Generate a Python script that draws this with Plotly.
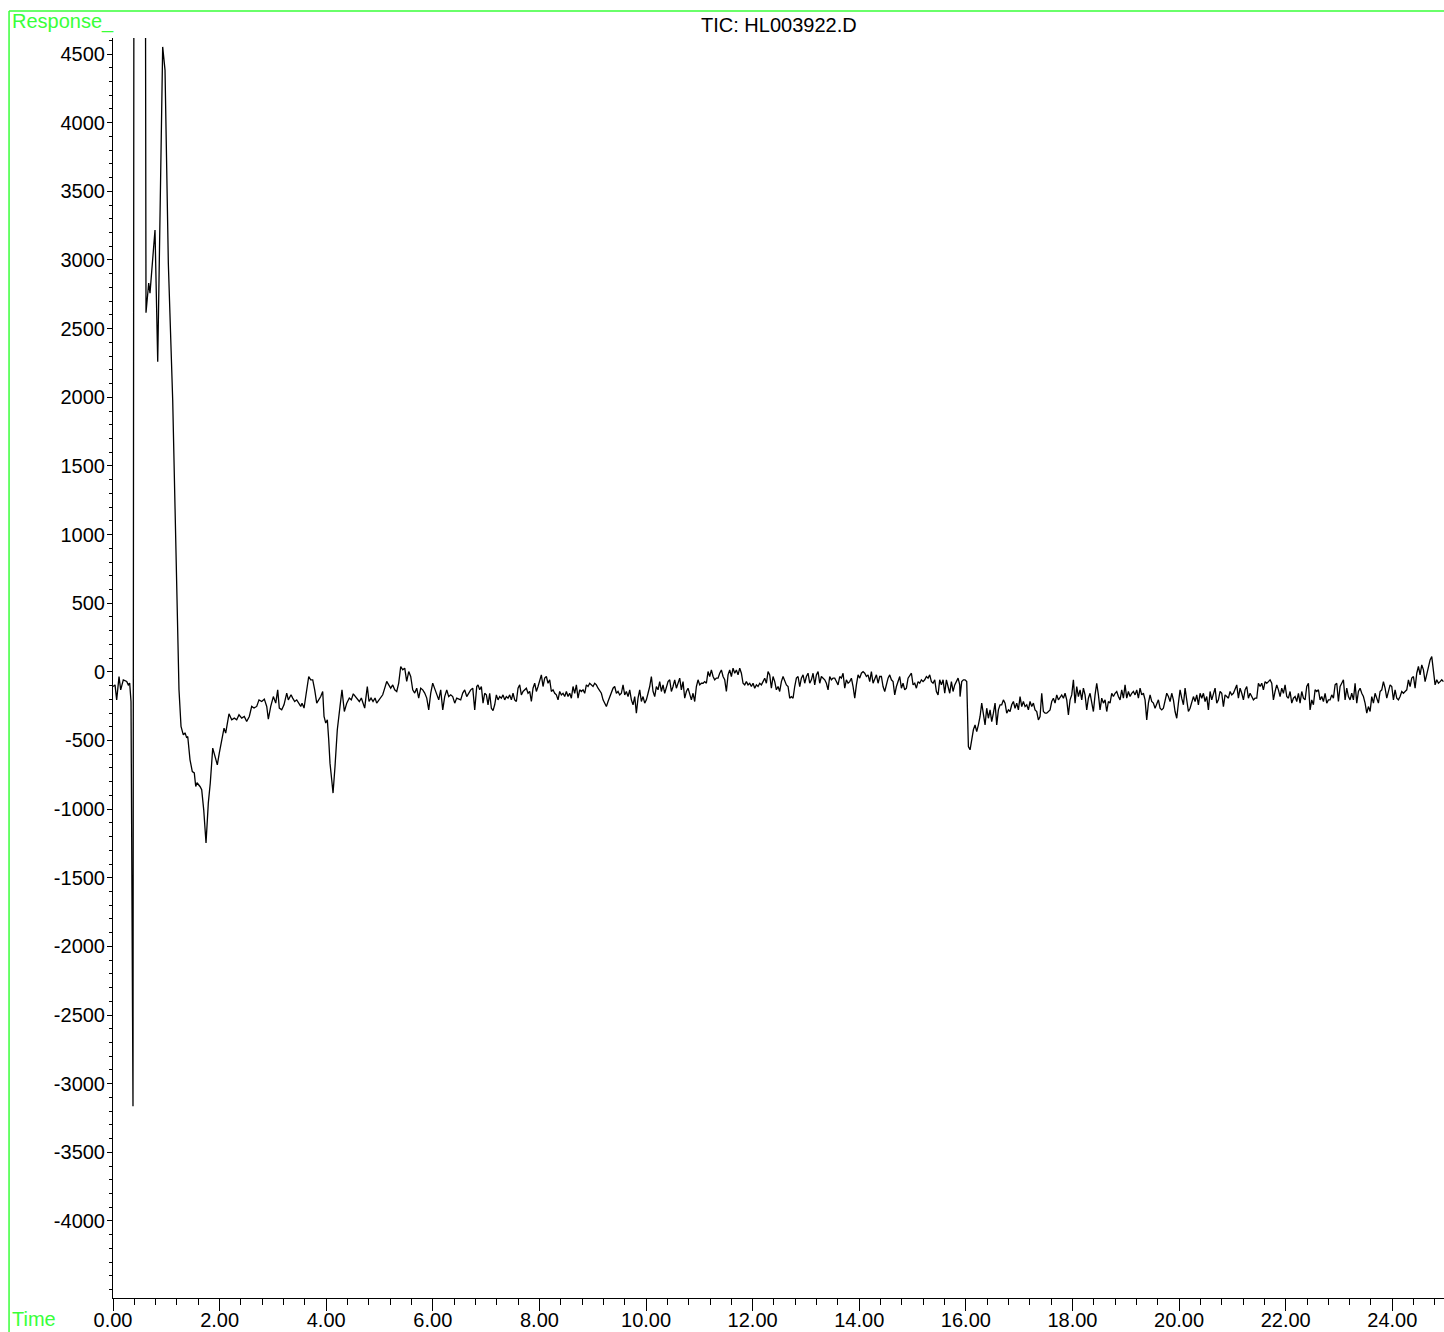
import numpy as np
import plotly.graph_objects as go

# ---- data (time in minutes, response in counts) ----
early_time = [
    0.000, 0.038, 0.069, 0.113, 0.144, 0.193, 0.257, 0.287, 0.313, 0.338,
    0.375, 0.400, 0.480, 0.580, 0.619, 0.670, 0.694, 0.788, 0.839, 0.932,
    0.976, 1.038, 1.120, 1.173, 1.225, 1.238, 1.276, 1.319, 1.351, 1.383,
    1.402, 1.445, 1.488, 1.525, 1.552, 1.576, 1.632, 1.664, 1.702, 1.745,
    1.788, 1.825, 1.871, 1.914, 1.957, 1.994, 2.039, 2.083, 2.114, 2.176,
    2.227, 2.276, 2.321, 2.364, 2.415, 2.463, 2.508, 2.557, 2.602, 2.645,
    2.696, 2.739, 2.790, 2.839, 2.884, 2.914, 2.959, 3.008, 3.053, 3.090,
    3.120, 3.165, 3.208, 3.259, 3.289, 3.340, 3.371, 3.409, 3.447, 3.484,
    3.522, 3.546, 3.584, 3.621, 3.672, 3.709, 3.747, 3.784, 3.822, 3.859,
    3.897, 3.934, 3.959, 3.991, 4.021, 4.047, 4.071, 4.103, 4.128, 4.165,
    4.208, 4.259, 4.296, 4.340, 4.385, 4.433, 4.471, 4.508, 4.546, 4.583,
    4.621, 4.659, 4.696, 4.722, 4.747, 4.771, 4.803, 4.841, 4.878, 4.916,
    4.947, 4.985, 5.023, 5.060, 5.098, 5.135, 5.173, 5.210, 5.248, 5.285,
    5.323, 5.360, 5.398, 5.435, 5.473, 5.510, 5.548, 5.585, 5.623, 5.660,
    5.698, 5.735, 5.773, 5.811, 5.848, 5.886, 5.923, 5.961, 5.998, 6.036,
    6.073, 6.111, 6.148, 6.186, 6.223, 6.261, 6.298, 6.336, 6.373, 6.411,
    6.448, 6.486, 6.523, 6.561, 6.598, 6.636, 6.674, 6.711, 6.749, 6.786,
    6.824,
]
early_resp = [
    -107, -95, -204, -34, -131, -58, -70, -95, -82, -216,
    -3164, 9000, 14000, 12000, 2616, 2832, 2759, 3218, 2259, 4552,
    4383, 2977, 1980, 1100, 233, -131, -398, -459, -444, -481,
    -471, -641, -726, -736, -835, -808, -835, -859, -1005, -1247,
    -956, -810, -556, -616, -677, -592, -495, -410, -446, -306,
    -349, -337, -349, -313, -337, -325, -362, -325, -252, -264,
    -252, -204, -216, -199, -252, -344, -252, -180, -228, -131,
    -264, -277, -240, -155, -204, -167, -191, -216, -204, -228,
    -252, -228, -264, -167, -34, -58, -58, -131, -228, -204,
    -180, -143, -325, -373, -349, -495, -665, -786, -883, -689,
    -422, -252, -131, -289, -228, -191, -204, -160, -180, -191,
    -216, -191, -240, -264, -180, -107, -216, -191, -216, -191,
    -228, -204, -180, -167, -119, -70, -95, -119, -95, -131,
    -143, -82, 39, 15, 27, -70, 2, -34, -131, -155,
    -119, -191, -119, -131, -155, -191, -277, -155, -82, -119,
    -155, -204, -131, -277, -180, -131, -180, -167, -180, -228,
    -191, -199, -204, -155, -131, -180, -155, -131, -119, -277,
    -107,
]

# uniformly sampled segments (start time, scan interval)
SCAN_INTERVAL = 0.03127
mid_start = 6.848
mid_resp = [
    -95, -131, -107, -228, -156, -168, -240, -156, -265, -282,
    -240, -168, -204, -180, -192, -168, -204, -180, -192, -168,
    -204, -156, -204, -216, -119, -95, -168, -143, -131, -119,
    -156, -143, -216, -119, -83, -143, -107, -58, -22, -107,
    -46, -34, -83, -58, -143, -131, -156, -168, -204, -143,
    -168, -156, -180, -143, -180, -156, -192, -107, -156, -95,
    -192, -131, -143, -131, -156, -95, -107, -83, -95, -107,
    -83, -95, -119, -143, -156, -204, -228, -253, -216, -180,
    -156, -119, -107, -156, -143, -168, -156, -95, -168, -143,
    -180, -131, -204, -240, -180, -301, -192, -131, -216, -180,
    -228, -204, -156, -107, -34, -143, -180, -107, -131, -71,
    -143, -95, -156, -119, -71, -58, -143, -107, -58, -119,
    -83, -46, -131, -71, -192, -143, -119, -156, -204, -156,
    -216, -107, -58, -95, -83, -83, -71, -83, 2, -34,
    14, -34, -58, -46, -46, -10, 14, -34, -58, -143,
    -22, 14, -34, 27, -10, 14, -22, 27, -10, -83,
    -95, -71, -95, -83, -107, -83, -119, -95, -107, -83,
    -95, -71, -46, -83, 2, -22, -119, -34, -71, -131,
    -107, -143, -71, -34, -71, -95, -107, -192, -180, -192,
    -107, -46, -34, -107, -46, -22, -83, -34, -10, -83,
    -58, -10, -95, -22, 2, -83, -34, -46, -58, -83,
    -131, -34, -58, -46, -46, -71, -95, -34, -46, -10,
    -119, -58, -83, -71, -46, -107, -192, -95, -22, -46,
    -10, 2, -10, -34, -22, -71, 2, -83, -46, -22,
    -83, -34, -34, -107, -143, -95, -46, -22, -58, -71,
    -168, -107, -71, -34, -119, -83, -131, -119, -46, -22,
    -10, -95, -83, -119, -71, -83, -58, -71, -58, -34,
    -46, -22, -71, -83, -58, -143, -168, -58, -95, -58,
    -156, -58, -119, -156, -71, -143, -95, -71, -46, -95,
]
end_start = 15.891
end_resp = [
    -180, -71, -58, -58, -71, -544, -568, -495, -422, -386,
    -435, -386, -325, -228, -325, -386, -265, -338, -277, -362,
    -301, -228, -386, -277, -240, -240, -204, -228, -301, -277,
    -289, -240, -216, -265, -228, -277, -180, -253, -216, -253,
    -240, -277, -216, -253, -228, -277, -289, -350, -325, -156,
    -289, -301, -301, -289, -277, -216, -192, -228, -168, -204,
    -180, -168, -192, -156, -204, -313, -204, -168, -58, -228,
    -107, -180, -131, -204, -119, -168, -277, -192, -156, -240,
    -289, -168, -83, -168, -277, -192, -228, -204, -289, -216,
    -228, -156, -180, -156, -143, -180, -204, -131, -192, -95,
    -192, -143, -180, -156, -143, -168, -131, -192, -119, -168,
    -156, -204, -350, -228, -168, -216, -228, -265, -240, -204,
    -265, -277, -265, -204, -156, -180, -216, -156, -204, -289,
    -338, -228, -131, -192, -240, -119, -192, -289, -265, -228,
    -180, -216, -168, -240, -156, -192, -156, -216, -180, -277,
    -143, -204, -168, -119, -228, -204, -143, -156, -253, -168,
    -180, -192, -143, -168, -156, -131, -95, -192, -119, -156,
    -204, -131, -107, -192, -156, -180, -204, -192, -192, -83,
    -107, -83, -131, -71, -83, -71, -58, -83, -204, -143,
    -95, -131, -180, -119, -156, -95, -180, -192, -143, -228,
    -192, -180, -216, -156, -228, -143, -192, -204, -107, -83,
    -277, -204, -240, -131, -143, -131, -204, -180, -216, -156,
    -228, -204, -204, -168, -192, -95, -83, -216, -107, -83,
    -58, -204, -119, -180, -204, -156, -204, -83, -228, -143,
    -119, -156, -180, -228, -301, -253, -289, -180, -228, -156,
    -192, -228, -143, -131, -71, -119, -192, -131, -95, -107,
    -204, -131, -192, -204, -180, -143, -156, -143, -131, -58,
    -107, -46, -34, -119, -10, 39, -22, 51, 14, -71,
    -22, 27, 87, 111, 27, -95, -58, -83, -71, -58,
    -71,
]

x_tick_vals = [0, 2, 4, 6, 8, 10, 12, 14, 16, 18, 20, 22, 24]
y_tick_vals = [-4000, -3500, -3000, -2500, -2000, -1500, -1000, -500,
               0, 500, 1000, 1500, 2000, 2500, 3000, 3500, 4000, 4500]
X_RANGE = [0, 24.97]
Y_RANGE = [-4561, 4617]
TITLE = "TIC: HL003922.D"

# ---- assemble trace ----
mid_time = mid_start + SCAN_INTERVAL * np.arange(len(mid_resp))
end_time = end_start + SCAN_INTERVAL * np.arange(len(end_resp))
time = np.concatenate([early_time, mid_time, end_time])
resp = np.concatenate([early_resp, mid_resp, end_resp])

FONT = "Liberation Sans, Arial, sans-serif"
GREEN = "#39ff39"

fig = go.Figure()
fig.add_trace(go.Scatter(x=time, y=resp, mode="lines",
                         line=dict(color="black", width=1.3),
                         hoverinfo="skip", showlegend=False))

fig.update_layout(
    width=1444, height=1332,
    margin=dict(l=113, r=0, t=38, b=34, pad=0, autoexpand=False),
    paper_bgcolor="white", plot_bgcolor="white",
    font=dict(family=FONT, size=20, color="black"),
    showlegend=False,
)
fig.update_xaxes(
    range=X_RANGE, showgrid=False, zeroline=False, automargin=False,
    showline=True, linecolor="black", linewidth=1,
    tickmode="array", tickvals=x_tick_vals,
    ticktext=[f"{v:.2f}" for v in x_tick_vals],
    ticks="outside", ticklen=12, tickwidth=1, tickcolor="black",
    ticklabelstandoff=-8,
    tickfont=dict(family=FONT, size=20, color="black"),
    minor=dict(tickmode="linear", tick0=0, dtick=0.4, ticks="outside",
               ticklen=6, tickwidth=1, tickcolor="black", showgrid=False),
)
fig.update_yaxes(
    range=Y_RANGE, showgrid=False, zeroline=False, automargin=False,
    showline=True, linecolor="black", linewidth=1,
    tickmode="array", tickvals=y_tick_vals,
    ticktext=[str(v) for v in y_tick_vals],
    ticks="outside", ticklen=5, tickwidth=1, tickcolor="black",
    ticklabelstandoff=-2,
    tickfont=dict(family=FONT, size=20, color="black"),
    minor=dict(tickmode="linear", tick0=0, dtick=100, ticks="outside",
               ticklen=3, tickwidth=1, tickcolor="black", showgrid=False),
)

# green frame (top and left edges)
fig.add_shape(type="line", xref="paper", yref="paper",
              x0=-0.0781, x1=1.01, y0=1.0214, y1=1.0214,
              line=dict(color=GREEN, width=1.5))
fig.add_shape(type="line", xref="paper", yref="paper",
              x0=-0.0781, x1=-0.0781, y0=1.0214, y1=-0.03,
              line=dict(color=GREEN, width=1.5))

fig.add_annotation(text="Response_", xref="paper", yref="paper",
                   x=-0.0774, y=1.0127, xanchor="left", yanchor="middle",
                   showarrow=False, font=dict(family=FONT, size=20, color=GREEN))
fig.add_annotation(text="Time", xref="paper", yref="paper",
                   x=-0.0774, y=-0.017, xanchor="left", yanchor="middle",
                   showarrow=False, font=dict(family=FONT, size=20, color=GREEN))
fig.add_annotation(text=TITLE, xref="paper", yref="paper",
                   x=0.5, y=1.0103, xanchor="center", yanchor="middle",
                   showarrow=False, font=dict(family=FONT, size=20, color="black"))

fig.write_html(
    "out.html",
    config={"displayModeBar": False},
    post_script="document.body.style.margin='0';document.body.style.overflow='hidden';",
)
